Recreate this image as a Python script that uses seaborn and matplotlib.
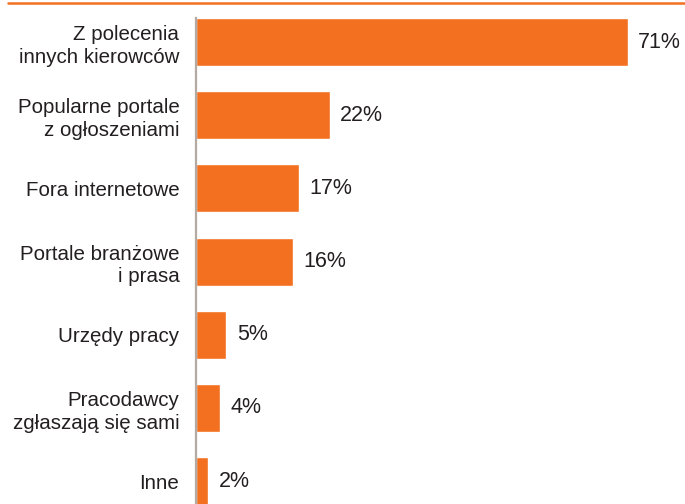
import matplotlib
matplotlib.use("Agg")
import matplotlib.pyplot as plt
from matplotlib.lines import Line2D
import seaborn as sns
import pandas as pd

# Sources of job offers among drivers (share of answers, %)
categories = [
    "Z polecenia\ninnych kierowców",
    "Popularne portale\nz ogłoszeniami",
    "Fora internetowe",
    "Portale branżowe\ni prasa",
    "Urzędy pracy",
    "Pracodawcy\nzgłaszają się sami",
    "Inne",
]
values = [71, 22, 17, 16, 5, 4, 2]
value_labels = [f"{v}%" for v in values]

ORANGE = "#F37021"
AXIS_GRAY = "#B3AAA3"
TEXT = "#231F20"

sns.set_theme(style="white")
plt.rcParams["font.family"] = ["Liberation Sans", "DejaVu Sans"]

df = pd.DataFrame({"category": categories, "value": values})

fig = plt.figure(figsize=(6.85, 5.04), dpi=100)
ax = fig.add_axes([196 / 685, 0.0, 1 - 196 / 685, 1.0])

sns.barplot(data=df, x="value", y="category", color=ORANGE, saturation=1,
            width=0.656, ax=ax, orient="h")

ax.set_xlim(0, 489 / 6.08)
ax.set_ylim(6.313, -0.575)

for side in ("top", "right", "bottom"):
    ax.spines[side].set_visible(False)
ax.spines["left"].set_color(AXIS_GRAY)
ax.spines["left"].set_linewidth(1.6)
ax.spines["left"].set_bounds(-0.329, 6.313)

ax.set_xticks([])
ax.set_xlabel("")
ax.set_ylabel("")
ax.tick_params(axis="y", length=0, pad=12, labelsize=14.8, labelcolor=TEXT)
for lbl in ax.get_yticklabels():
    lbl.set_linespacing(1.25)
    lbl.set_horizontalalignment("right")

ax.bar_label(ax.containers[0], labels=value_labels, padding=7.5,
             fontsize=15.5, color=TEXT)

# orange rule across the top of the figure
fig.add_artist(Line2D([8 / 685, 1.0], [1 - 2.5 / 504, 1 - 2.5 / 504],
                      color=ORANGE, lw=1.8, transform=fig.transFigure))

fig.savefig("out.png", dpi=100)
